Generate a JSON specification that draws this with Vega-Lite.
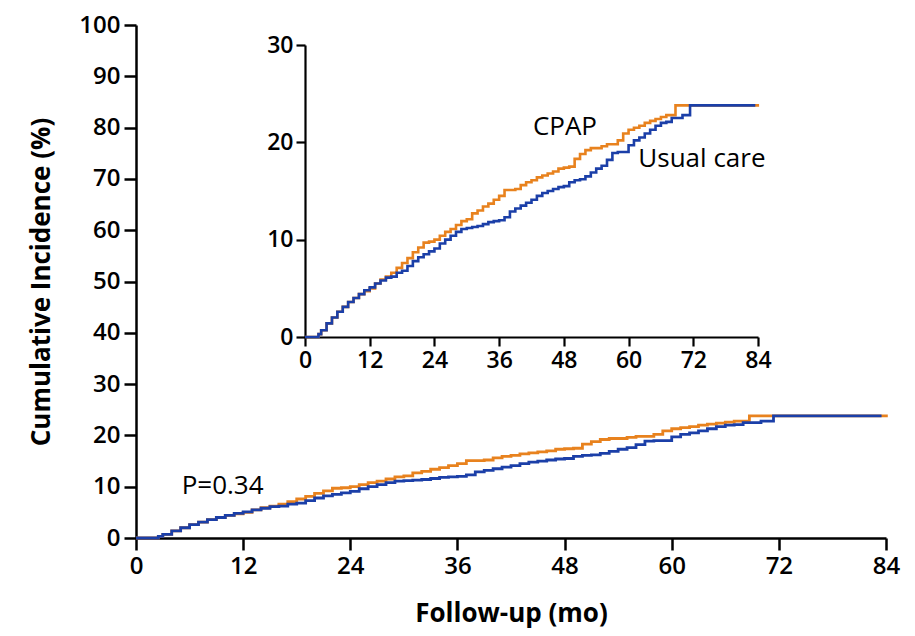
{
  "$schema": "https://vega.github.io/schema/vega-lite/v6.json",
  "width": 750,
  "height": 513,
  "autosize": "none",
  "padding": {"left": 136, "top": 25, "right": 29, "bottom": 98},
  "background": "white",
  "config": {
    "view": {"stroke": null},
    "axis": {
      "grid": false,
      "domainColor": "black",
      "tickColor": "black",
      "labelColor": "black",
      "titleColor": "black",
      "labelFont": "Open Sans",
      "titleFont": "Open Sans",
      "labelFontWeight": 600,
      "labelFlush": false,
      "labelOverlap": false
    },
    "text": {"font": "Open Sans", "color": "black"}
  },
  "datasets": {
    "curves": [
      {"group": "CPAP", "t": 0, "v": 0}, {"group": "CPAP", "t": 1.8, "v": 0}, {"group": "CPAP", "t": 2.5, "v": 0.3},
      {"group": "CPAP", "t": 3, "v": 0.7}, {"group": "CPAP", "t": 4, "v": 1.4}, {"group": "CPAP", "t": 5, "v": 2.0},
      {"group": "CPAP", "t": 6, "v": 2.6}, {"group": "CPAP", "t": 7, "v": 3.1}, {"group": "CPAP", "t": 8, "v": 3.6},
      {"group": "CPAP", "t": 9, "v": 4.0}, {"group": "CPAP", "t": 10, "v": 4.4}, {"group": "CPAP", "t": 11, "v": 4.7},
      {"group": "CPAP", "t": 12, "v": 5.0}, {"group": "CPAP", "t": 13, "v": 5.5}, {"group": "CPAP", "t": 14, "v": 5.9},
      {"group": "CPAP", "t": 15, "v": 6.2}, {"group": "CPAP", "t": 16, "v": 6.6}, {"group": "CPAP", "t": 17, "v": 7.1},
      {"group": "CPAP", "t": 18, "v": 7.6}, {"group": "CPAP", "t": 19, "v": 8.1}, {"group": "CPAP", "t": 20, "v": 8.7},
      {"group": "CPAP", "t": 21, "v": 9.2}, {"group": "CPAP", "t": 22, "v": 9.7}, {"group": "CPAP", "t": 23, "v": 9.8},
      {"group": "CPAP", "t": 24, "v": 10.0}, {"group": "CPAP", "t": 25, "v": 10.4}, {"group": "CPAP", "t": 26, "v": 10.8},
      {"group": "CPAP", "t": 27, "v": 11.1}, {"group": "CPAP", "t": 28, "v": 11.5}, {"group": "CPAP", "t": 29, "v": 11.9},
      {"group": "CPAP", "t": 30, "v": 12.1}, {"group": "CPAP", "t": 31, "v": 12.7}, {"group": "CPAP", "t": 32, "v": 13.0},
      {"group": "CPAP", "t": 33, "v": 13.4}, {"group": "CPAP", "t": 34, "v": 13.7}, {"group": "CPAP", "t": 35, "v": 14.1},
      {"group": "CPAP", "t": 36, "v": 14.5}, {"group": "CPAP", "t": 37, "v": 15.1}, {"group": "CPAP", "t": 39, "v": 15.2},
      {"group": "CPAP", "t": 40, "v": 15.6}, {"group": "CPAP", "t": 41, "v": 15.9}, {"group": "CPAP", "t": 42, "v": 16.1},
      {"group": "CPAP", "t": 43, "v": 16.4}, {"group": "CPAP", "t": 44, "v": 16.6}, {"group": "CPAP", "t": 45, "v": 16.8},
      {"group": "CPAP", "t": 46, "v": 17.0}, {"group": "CPAP", "t": 47, "v": 17.3}, {"group": "CPAP", "t": 48, "v": 17.4},
      {"group": "CPAP", "t": 49, "v": 17.5}, {"group": "CPAP", "t": 50, "v": 18.3}, {"group": "CPAP", "t": 51, "v": 18.8},
      {"group": "CPAP", "t": 52, "v": 19.2}, {"group": "CPAP", "t": 53, "v": 19.4}, {"group": "CPAP", "t": 55, "v": 19.6},
      {"group": "CPAP", "t": 56, "v": 19.8}, {"group": "CPAP", "t": 58, "v": 20.2}, {"group": "CPAP", "t": 59, "v": 20.9},
      {"group": "CPAP", "t": 60, "v": 21.3}, {"group": "CPAP", "t": 61, "v": 21.5}, {"group": "CPAP", "t": 62, "v": 21.7},
      {"group": "CPAP", "t": 63, "v": 22.0}, {"group": "CPAP", "t": 64, "v": 22.2}, {"group": "CPAP", "t": 65, "v": 22.4},
      {"group": "CPAP", "t": 66, "v": 22.6}, {"group": "CPAP", "t": 67, "v": 22.8}, {"group": "CPAP", "t": 68.7, "v": 23.8},
      {"group": "CPAP", "t": 84.2, "v": 23.8},
      {"group": "Usual care", "t": 0, "v": 0}, {"group": "Usual care", "t": 1.8, "v": 0}, {"group": "Usual care", "t": 2.5, "v": 0.3},
      {"group": "Usual care", "t": 3, "v": 0.7}, {"group": "Usual care", "t": 4, "v": 1.4}, {"group": "Usual care", "t": 5, "v": 2.0},
      {"group": "Usual care", "t": 6, "v": 2.6}, {"group": "Usual care", "t": 7, "v": 3.1}, {"group": "Usual care", "t": 8, "v": 3.6},
      {"group": "Usual care", "t": 9, "v": 4.0}, {"group": "Usual care", "t": 10, "v": 4.4}, {"group": "Usual care", "t": 11, "v": 4.8},
      {"group": "Usual care", "t": 12, "v": 5.1}, {"group": "Usual care", "t": 13, "v": 5.5}, {"group": "Usual care", "t": 14, "v": 5.8},
      {"group": "Usual care", "t": 15, "v": 6.1}, {"group": "Usual care", "t": 16, "v": 6.2}, {"group": "Usual care", "t": 17, "v": 6.6},
      {"group": "Usual care", "t": 18, "v": 6.8}, {"group": "Usual care", "t": 19, "v": 7.3}, {"group": "Usual care", "t": 20, "v": 7.8},
      {"group": "Usual care", "t": 21, "v": 8.2}, {"group": "Usual care", "t": 22, "v": 8.5}, {"group": "Usual care", "t": 23, "v": 8.8},
      {"group": "Usual care", "t": 24, "v": 9.1}, {"group": "Usual care", "t": 25, "v": 9.6}, {"group": "Usual care", "t": 26, "v": 10.0},
      {"group": "Usual care", "t": 27, "v": 10.4}, {"group": "Usual care", "t": 28, "v": 10.8}, {"group": "Usual care", "t": 29, "v": 11.1},
      {"group": "Usual care", "t": 30, "v": 11.2}, {"group": "Usual care", "t": 31, "v": 11.3}, {"group": "Usual care", "t": 32, "v": 11.4},
      {"group": "Usual care", "t": 33, "v": 11.6}, {"group": "Usual care", "t": 34, "v": 11.8}, {"group": "Usual care", "t": 35, "v": 11.9},
      {"group": "Usual care", "t": 36, "v": 12.0}, {"group": "Usual care", "t": 37, "v": 12.3}, {"group": "Usual care", "t": 38, "v": 12.9},
      {"group": "Usual care", "t": 39, "v": 13.2}, {"group": "Usual care", "t": 40, "v": 13.5}, {"group": "Usual care", "t": 41, "v": 13.8},
      {"group": "Usual care", "t": 42, "v": 14.1}, {"group": "Usual care", "t": 43, "v": 14.5}, {"group": "Usual care", "t": 44, "v": 14.8},
      {"group": "Usual care", "t": 45, "v": 15.0}, {"group": "Usual care", "t": 46, "v": 15.2}, {"group": "Usual care", "t": 47, "v": 15.4},
      {"group": "Usual care", "t": 48, "v": 15.5}, {"group": "Usual care", "t": 49, "v": 15.9}, {"group": "Usual care", "t": 50, "v": 16.1},
      {"group": "Usual care", "t": 51, "v": 16.2}, {"group": "Usual care", "t": 52, "v": 16.5}, {"group": "Usual care", "t": 53, "v": 16.9},
      {"group": "Usual care", "t": 54, "v": 17.3}, {"group": "Usual care", "t": 55, "v": 17.6}, {"group": "Usual care", "t": 56, "v": 18.2},
      {"group": "Usual care", "t": 57, "v": 18.9}, {"group": "Usual care", "t": 58, "v": 19.0}, {"group": "Usual care", "t": 60, "v": 19.7},
      {"group": "Usual care", "t": 61, "v": 20.2}, {"group": "Usual care", "t": 62, "v": 20.5}, {"group": "Usual care", "t": 63, "v": 20.9},
      {"group": "Usual care", "t": 64, "v": 21.3}, {"group": "Usual care", "t": 65, "v": 21.7}, {"group": "Usual care", "t": 66, "v": 22.0},
      {"group": "Usual care", "t": 67, "v": 22.1}, {"group": "Usual care", "t": 68, "v": 22.5}, {"group": "Usual care", "t": 70, "v": 22.8},
      {"group": "Usual care", "t": 71.4, "v": 23.8}, {"group": "Usual care", "t": 83.5, "v": 23.8}
    ],
    "mainNotes": [
      {"label": "P=0.34", "t": 9.7, "v": 10.1}
    ],
    "insetNotes": [
      {"label": "CPAP", "t": 48.2, "v": 21.6},
      {"label": "Usual care", "t": 73.6, "v": 18.3}
    ]
  },
  "layer": [
    {
      "layer": [
        {
          "data": {"name": "curves"},
          "transform": [{"filter": "datum.group === 'CPAP'"}],
          "mark": {"type": "line", "interpolate": "step-after", "color": "#E8821E", "strokeWidth": 2.8},
          "encoding": {
            "x": {
              "field": "t", "type": "quantitative",
              "scale": {"domain": [0, 84], "nice": false},
              "axis": {
                "values": [0, 12, 24, 36, 48, 60, 72, 84],
                "title": "Follow-up (mo)",
                "tickSize": 12, "tickWidth": 2.5, "domainWidth": 2.5,
                "labelFontSize": 24, "labelPadding": 4,
                "titleFontSize": 26, "titleFontWeight": "bold", "titlePadding": 22
              }
            },
            "y": {
              "field": "v", "type": "quantitative",
              "scale": {"domain": [0, 100], "nice": false},
              "axis": {
                "values": [0, 10, 20, 30, 40, 50, 60, 70, 80, 90, 100],
                "title": "Cumulative Incidence (%)",
                "tickSize": 12, "tickWidth": 2.5, "domainWidth": 2.5,
                "labelFontSize": 24, "labelPadding": 4,
                "titleFontSize": 26, "titleFontWeight": "bold", "titlePadding": 24
              }
            }
          }
        },
        {
          "data": {"name": "curves"},
          "transform": [{"filter": "datum.group === 'Usual care'"}],
          "mark": {"type": "line", "interpolate": "step-after", "color": "#1B3FA8", "strokeWidth": 2.8},
          "encoding": {
            "x": {"field": "t", "type": "quantitative"},
            "y": {"field": "v", "type": "quantitative"}
          }
        },
        {
          "data": {"name": "mainNotes"},
          "mark": {"type": "text", "fontSize": 26, "fontWeight": 500, "align": "center", "baseline": "middle"},
          "encoding": {
            "x": {"field": "t", "type": "quantitative"},
            "y": {"field": "v", "type": "quantitative"},
            "text": {"field": "label"}
          }
        }
      ]
    },
    {
      "layer": [
        {
          "data": {"name": "curves"},
          "transform": [{"filter": "datum.group === 'CPAP'"}],
          "mark": {"type": "line", "interpolate": "step-after", "color": "#E8821E", "strokeWidth": 2.6},
          "encoding": {
            "x": {
              "field": "t", "type": "quantitative",
              "scale": {"domain": [0, 84], "range": [169, 622], "nice": false},
              "axis": {
                "orient": "bottom", "offset": -201,
                "values": [0, 12, 24, 36, 48, 60, 72, 84],
                "title": null,
                "tickSize": 9, "tickWidth": 2.2, "domainWidth": 2.2,
                "labelFontSize": 23, "labelPadding": 3
              }
            },
            "y": {
              "field": "v", "type": "quantitative",
              "scale": {"domain": [0, 30], "range": [312, 20], "nice": false},
              "axis": {
                "orient": "left", "offset": -169,
                "values": [0, 10, 20, 30],
                "title": null,
                "tickSize": 9, "tickWidth": 2.2, "domainWidth": 2.2,
                "labelFontSize": 23, "labelPadding": 3
              }
            }
          }
        },
        {
          "data": {"name": "curves"},
          "transform": [{"filter": "datum.group === 'Usual care'"}],
          "mark": {"type": "line", "interpolate": "step-after", "color": "#1B3FA8", "strokeWidth": 2.6},
          "encoding": {
            "x": {"field": "t", "type": "quantitative"},
            "y": {"field": "v", "type": "quantitative"}
          }
        },
        {
          "data": {"name": "insetNotes"},
          "mark": {"type": "text", "fontSize": 26, "fontWeight": 500, "align": "center", "baseline": "middle"},
          "encoding": {
            "x": {"field": "t", "type": "quantitative"},
            "y": {"field": "v", "type": "quantitative"},
            "text": {"field": "label"}
          }
        }
      ]
    }
  ],
  "resolve": {
    "scale": {"x": "independent", "y": "independent"},
    "axis": {"x": "independent", "y": "independent"}
  }
}
